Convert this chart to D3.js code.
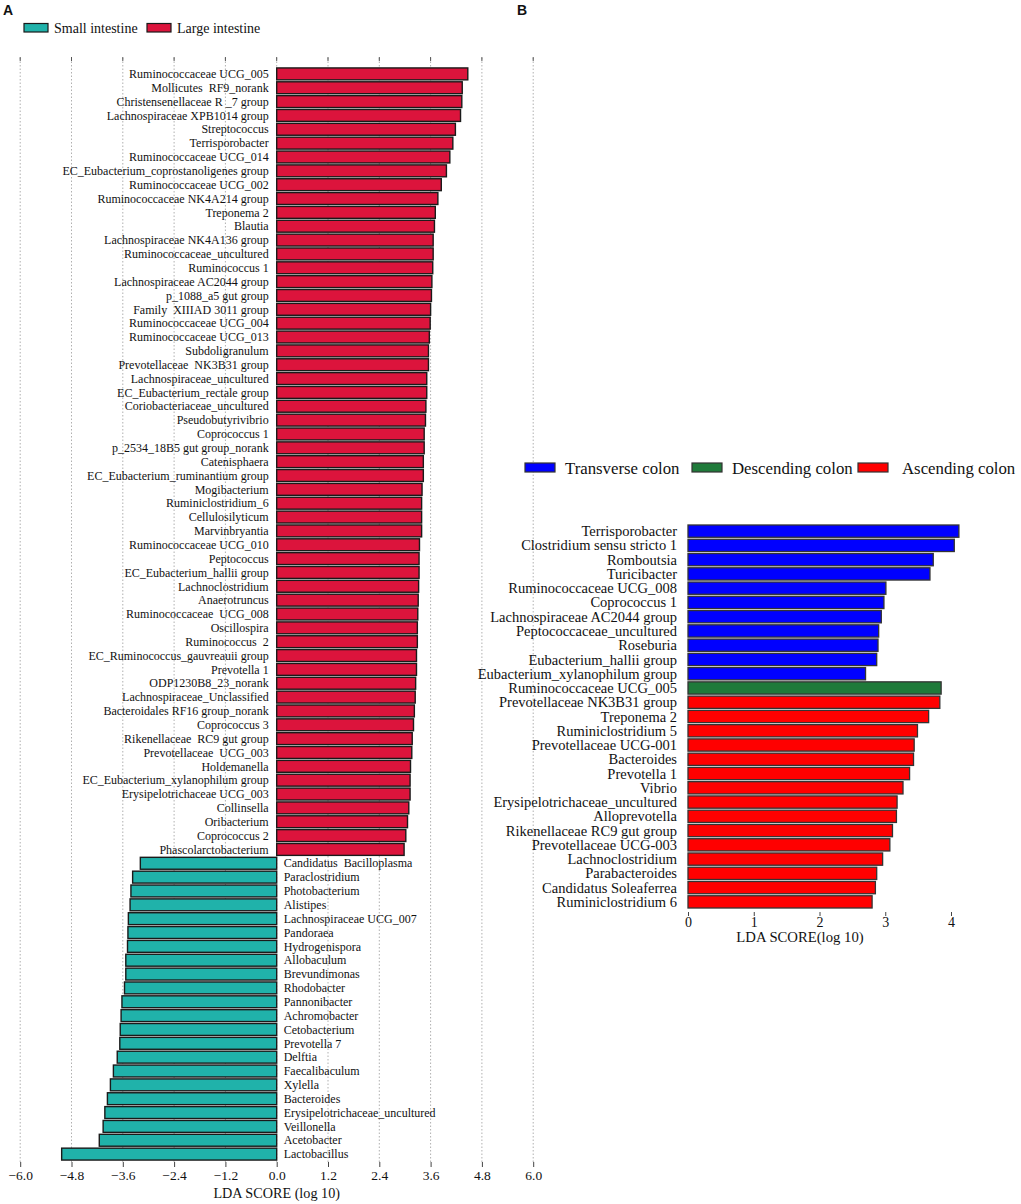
<!DOCTYPE html>
<html>
<head>
<meta charset="utf-8">
<script src="https://cdn.jsdelivr.net/npm/d3@7"></script>
<style>
  body { margin: 0; background: #fff; }
  svg { display: block; }
  text { font-family: "Liberation Serif", "Times New Roman", serif; fill: #111; }
  .panel-letter { font-family: "Liberation Sans", Arial, sans-serif; font-weight: bold; font-size: 14px; }
</style>
</head>
<body>
<svg id="chart" width="1021" height="1204"></svg>
<script>
// ---- panel A: small vs large intestine ----
var largeNames = [
  "Ruminococcaceae UCG_005", "Mollicutes  RF9_norank", "Christensenellaceae R _7 group",
  "Lachnospiraceae XPB1014 group", "Streptococcus", "Terrisporobacter", "Ruminococcaceae UCG_014",
  "EC_Eubacterium_coprostanoligenes group", "Ruminococcaceae UCG_002", "Ruminococcaceae NK4A214 group",
  "Treponema 2", "Blautia", "Lachnospiraceae NK4A136 group", "Ruminococcaceae_uncultured",
  "Ruminococcus 1", "Lachnospiraceae AC2044 group", "p_1088_a5 gut group", "Family  XIIIAD 3011 group",
  "Ruminococcaceae UCG_004", "Ruminococcaceae UCG_013", "Subdoligranulum", "Prevotellaceae  NK3B31 group",
  "Lachnospiraceae_uncultured", "EC_Eubacterium_rectale group", "Coriobacteriaceae_uncultured",
  "Pseudobutyrivibrio", "Coprococcus 1", "p_2534_18B5 gut group_norank", "Catenisphaera",
  "EC_Eubacterium_ruminantium group", "Mogibacterium", "Ruminiclostridium_6", "Cellulosilyticum",
  "Marvinbryantia", "Ruminococcaceae UCG_010", "Peptococcus", "EC_Eubacterium_hallii group",
  "Lachnoclostridium", "Anaerotruncus", "Ruminococcaceae  UCG_008", "Oscillospira", "Ruminococcus  2",
  "EC_Ruminococcus_gauvreauii group", "Prevotella 1", "ODP1230B8_23_norank", "Lachnospiraceae_Unclassified",
  "Bacteroidales RF16 group_norank", "Coprococcus 3", "Rikenellaceae  RC9 gut group", "Prevotellaceae  UCG_003",
  "Holdemanella", "EC_Eubacterium_xylanophilum group", "Erysipelotrichaceae UCG_003", "Collinsella",
  "Oribacterium", "Coprococcus 2", "Phascolarctobacterium"
];
var largeScores = [
  4.47, 4.34, 4.33, 4.30, 4.18, 4.12, 4.05, 3.97, 3.85, 3.77,
  3.71, 3.69, 3.66, 3.66, 3.65, 3.63, 3.62, 3.60, 3.59, 3.57,
  3.55, 3.55, 3.51, 3.51, 3.49, 3.48, 3.45, 3.45, 3.43, 3.43,
  3.40, 3.39, 3.39, 3.39, 3.34, 3.33, 3.33, 3.32, 3.31, 3.30,
  3.29, 3.29, 3.27, 3.27, 3.25, 3.24, 3.22, 3.20, 3.17, 3.16,
  3.13, 3.12, 3.12, 3.09, 3.06, 3.02, 2.98
];
var smallNames = [
  "Candidatus  Bacilloplasma", "Paraclostridium", "Photobacterium", "Alistipes", "Lachnospiraceae UCG_007",
  "Pandoraea", "Hydrogenispora", "Allobaculum", "Brevundimonas", "Rhodobacter", "Pannonibacter",
  "Achromobacter", "Cetobacterium", "Prevotella 7", "Delftia", "Faecalibaculum", "Xylella", "Bacteroides",
  "Erysipelotrichaceae_uncultured", "Veillonella", "Acetobacter", "Lactobacillus"
];
var smallScores = [
  3.19, 3.37, 3.41, 3.43, 3.47, 3.48, 3.49, 3.53, 3.53, 3.56, 3.62,
  3.64, 3.66, 3.67, 3.73, 3.82, 3.89, 3.96, 4.02, 4.06, 4.15, 5.03
];
var groupsA = ["Small intestine", "Large intestine"];
var ticksA = [-6.0, -4.8, -3.6, -2.4, -1.2, 0.0, 1.2, 2.4, 3.6, 4.8, 6.0];

// ---- panel B: colon segments ----
var transNames = [
  "Terrisporobacter", "Clostridium sensu stricto 1", "Romboutsia", "Turicibacter", "Ruminococcaceae UCG_008",
  "Coprococcus 1", "Lachnospiraceae AC2044 group", "Peptococcaceae_uncultured", "Roseburia",
  "Eubacterium_hallii group", "Eubacterium_xylanophilum group"
];
var transScores = [4.12, 4.05, 3.73, 3.68, 3.01, 2.98, 2.94, 2.90, 2.89, 2.87, 2.70];
var descNames = ["Ruminococcaceae UCG_005"];
var descScores = [3.85];
var ascNames = [
  "Prevotellaceae NK3B31 group", "Treponema 2", "Ruminiclostridium 5", "Prevotellaceae UCG-001",
  "Bacteroides", "Prevotella 1", "Vibrio", "Erysipelotrichaceae_uncultured", "Alloprevotella",
  "Rikenellaceae RC9 gut group", "Prevotellaceae UCG-003", "Lachnoclostridium", "Parabacteroides",
  "Candidatus Soleaferrea", "Ruminiclostridium 6"
];
var ascScores = [3.83, 3.66, 3.49, 3.44, 3.43, 3.37, 3.27, 3.18, 3.17, 3.11, 3.07, 2.96, 2.87, 2.85, 2.80];
var groupsB = ["Transverse colon", "Descending colon", "Ascending colon"];
var ticksB = [0, 1, 2, 3, 4];

var svg = d3.select("#chart");

// ================= panel A =================
var rowsA = largeNames.map((n, i) => ({name: n, value: largeScores[i], group: "Large intestine"}))
  .concat(smallNames.map((n, i) => ({name: n, value: -smallScores[i], group: "Small intestine"})));

var colorA = d3.scaleOrdinal().domain(groupsA).range(["#20b2aa", "#dc143c"]);
var xA = d3.scaleLinear().domain([-6, 6]).range([20.2, 533.2]);
var yA = d3.scaleBand().domain(rowsA.map(d => d.name)).range([66, 1162]).padding(0.14);

var gA = svg.append("g");

gA.append("text").attr("class", "panel-letter").attr("x", 3).attr("y", 15).text("A");

// dotted grid + tick marks
gA.selectAll(".gridA").data(ticksA).enter().append("line")
  .attr("x1", d => xA(d)).attr("x2", d => xA(d))
  .attr("y1", 58).attr("y2", 1162)
  .attr("stroke", "#b0b0b0").attr("stroke-width", 1).attr("stroke-dasharray", "1.5,2");
gA.selectAll(".topTick").data(ticksA).enter().append("line")
  .attr("x1", d => xA(d)).attr("x2", d => xA(d))
  .attr("y1", 57).attr("y2", 61)
  .attr("stroke", "#555").attr("stroke-width", 1);

gA.selectAll(".barA").data(rowsA).enter().append("rect")
  .attr("x", d => xA(Math.min(0, d.value)))
  .attr("y", d => yA(d.name))
  .attr("width", d => Math.abs(xA(d.value) - xA(0)))
  .attr("height", yA.bandwidth())
  .attr("fill", d => colorA(d.group))
  .attr("stroke", "#1a1a1a").attr("stroke-width", 1.4);

gA.selectAll(".labA").data(rowsA).enter().append("text")
  .attr("x", d => d.value > 0 ? xA(0) - 8 : xA(0) + 7)
  .attr("y", d => yA(d.name) + yA.bandwidth() / 2)
  .attr("dy", "0.35em")
  .attr("text-anchor", d => d.value > 0 ? "end" : "start")
  .style("font-size", "12px")
  .style("white-space", "pre")
  .text(d => d.name);

var axA = gA.append("g").attr("transform", "translate(0,1162)")
  .call(d3.axisBottom(xA).tickValues(ticksA).tickFormat(d3.format(".1f")).tickSize(5).tickPadding(3));
axA.select(".domain").remove();
axA.selectAll("line").attr("stroke", "#444");
axA.selectAll("text").style("font-size", "13.5px").style("font-family", "Liberation Serif, serif").attr("fill", "#111");

gA.append("text").attr("x", xA(0)).attr("y", 1198).attr("text-anchor", "middle")
  .style("font-size", "14.2px").text("LDA SCORE (log 10)");

// legend A
var legA = gA.selectAll(".legA").data(groupsA).enter().append("g")
  .attr("transform", (d, i) => "translate(" + [24, 147][i] + ",23.5)");
legA.append("rect").attr("width", 24).attr("height", 8.5)
  .attr("fill", d => colorA(d)).attr("stroke", "#1a1a1a").attr("stroke-width", 1.2);
legA.append("text").attr("x", 30).attr("y", 9).style("font-size", "14px").text(d => d);

// ================= panel B =================
var rowsB = transNames.map((n, i) => ({name: n, value: transScores[i], group: groupsB[0]}))
  .concat(descNames.map((n, i) => ({name: n, value: descScores[i], group: groupsB[1]})))
  .concat(ascNames.map((n, i) => ({name: n, value: ascScores[i], group: groupsB[2]})));

var colorB = d3.scaleOrdinal().domain(groupsB).range(["#0000ff", "#1f7a3a", "#ff0000"]);
var xB = d3.scaleLinear().domain([0, 4]).range([688, 951]);
var yB = d3.scaleBand().domain(rowsB.map(d => d.name)).range([523, 910]).padding(0.14);

var gB = svg.append("g");
gB.append("text").attr("class", "panel-letter").attr("x", 517).attr("y", 15).text("B");

gB.selectAll(".barB").data(rowsB).enter().append("rect")
  .attr("x", xB(0))
  .attr("y", d => yB(d.name))
  .attr("width", d => xB(d.value) - xB(0))
  .attr("height", yB.bandwidth())
  .attr("fill", d => colorB(d.group))
  .attr("stroke", "#333").attr("stroke-width", 1.3);

gB.selectAll(".labB").data(rowsB).enter().append("text")
  .attr("x", xB(0) - 11)
  .attr("y", d => yB(d.name) + yB.bandwidth() / 2)
  .attr("dy", "0.35em")
  .attr("text-anchor", "end")
  .style("font-size", "14.5px")
  .text(d => d.name);

var axB = gB.append("g").attr("transform", "translate(0,912)")
  .call(d3.axisBottom(xB).tickValues(ticksB).tickFormat(d3.format("d")).tickSize(4).tickPadding(1));
axB.select(".domain").remove();
axB.selectAll("line").attr("stroke", "#444");
axB.selectAll("text").style("font-size", "14px").style("font-family", "Liberation Serif, serif").attr("fill", "#111");

gB.append("text").attr("x", 800).attr("y", 942).attr("text-anchor", "middle")
  .style("font-size", "14.7px").text("LDA SCORE(log 10)");

// legend B
var legB = gB.selectAll(".legB").data(groupsB).enter().append("g")
  .attr("transform", (d, i) => "translate(" + [525, 692, 858][i] + ",463)");
legB.append("rect").attr("width", 30).attr("height", 9)
  .attr("fill", d => colorB(d)).attr("stroke", "#333").attr("stroke-width", 1.2);
legB.append("text").attr("x", (d, i) => i === 2 ? 44 : 40).attr("y", 11).style("font-size", "16.8px").text(d => d);
</script>
</body>
</html>
